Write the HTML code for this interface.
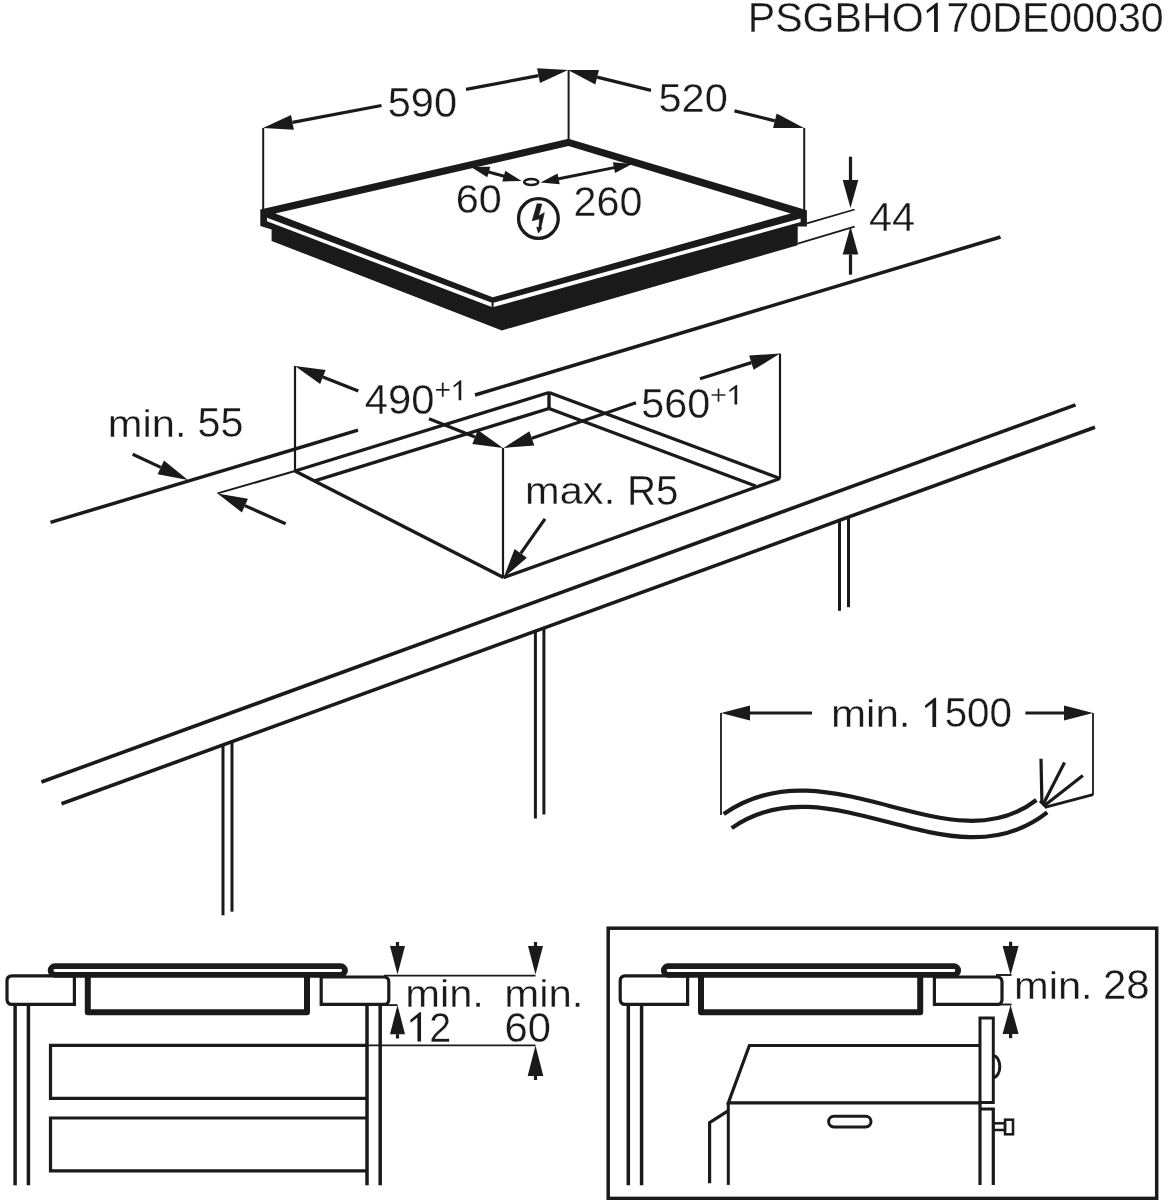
<!DOCTYPE html>
<html><head><meta charset="utf-8"><style>
html,body{margin:0;padding:0;background:#fff;}
svg{display:block;will-change:transform;}
text{font-family:"Liberation Sans",sans-serif;fill:#1a1a1a;stroke:#fff;stroke-width:0.3px;}
</style></head><body>
<svg width="1168" height="1200" viewBox="0 0 1168 1200" stroke="#1a1a1a" fill="none">
<line x1="263.2" y1="128" x2="263.2" y2="211" stroke-width="2" stroke-linecap="butt"/>
<line x1="568.6" y1="70" x2="568.6" y2="140" stroke-width="2" stroke-linecap="butt"/>
<line x1="804.2" y1="128" x2="804.2" y2="211" stroke-width="2" stroke-linecap="butt"/>
<polygon points="263.00,128.00 291.07,115.04 293.87,129.77" fill="#1a1a1a" stroke="none" stroke-width="0"/>
<line x1="381.5" y1="105.5" x2="292.47341748738006" y2="122.40378148973797" stroke-width="3.2" stroke-linecap="butt"/>
<polygon points="568.00,70.00 539.93,82.97 537.13,68.24" fill="#1a1a1a" stroke="none" stroke-width="0"/>
<line x1="466" y1="89.4" x2="538.5283266855037" y2="75.60539668922773" stroke-width="3.2" stroke-linecap="butt"/>
<polygon points="568.00,70.00 598.92,69.88 595.34,84.44" fill="#1a1a1a" stroke="none" stroke-width="0"/>
<line x1="651" y1="90.4" x2="597.1329511673882" y2="77.1603879977677" stroke-width="3.2" stroke-linecap="butt"/>
<polygon points="804.00,128.00 773.08,128.12 776.66,113.55" fill="#1a1a1a" stroke="none" stroke-width="0"/>
<line x1="734.5" y1="110.9" x2="774.8688054685556" y2="120.83246868363022" stroke-width="3.2" stroke-linecap="butt"/>
<polygon points="260.30,209.50 568.50,138.80 806.90,210.20 806.90,226.50 797.70,226.50 797.70,245.30 501.90,330.40 271.60,240.90 271.60,229.50 260.30,226.00" fill="#1a1a1a" stroke="none" stroke-width="0"/>
<polygon points="275.20,213.50 568.50,146.00 790.80,213.40 492.70,297.30" fill="#fff" stroke="none" stroke-width="0"/>
<polygon points="267.00,217.80 492.50,303.00 800.60,218.40 800.60,222.00 492.50,307.30 267.00,221.30" fill="#fff" stroke="none" stroke-width="0"/>
<line x1="492.6" y1="302.5" x2="492.6" y2="307.5" stroke-width="2" stroke-linecap="butt"/>
<ellipse cx="531.25" cy="182" rx="7.05" ry="3.0" fill="none" stroke-width="2.6"/>
<polygon points="471.00,167.00 490.30,166.67 487.34,177.26" fill="#1a1a1a" stroke="none" stroke-width="0"/>
<polygon points="521.60,181.10 502.30,181.43 505.26,170.84" fill="#1a1a1a" stroke="none" stroke-width="0"/>
<line x1="485" y1="171" x2="507" y2="177" stroke-width="3" stroke-linecap="butt"/>
<polygon points="632.10,164.10 615.04,173.12 612.88,162.33" fill="#1a1a1a" stroke="none" stroke-width="0"/>
<polygon points="540.50,182.40 557.56,173.38 559.72,184.17" fill="#1a1a1a" stroke="none" stroke-width="0"/>
<line x1="555" y1="179.5" x2="618" y2="166.9" stroke-width="3" stroke-linecap="butt"/>
<circle cx="538.4" cy="218.5" r="19.85" fill="none" stroke-width="3.3"/>
<g stroke-width="0.7" stroke-linejoin="round">
<polygon points="537.16,203.80 541.83,204.02 538.49,216.04 544.28,212.70 540.94,227.62 541.83,228.29 538.49,232.96 536.71,227.17 538.94,227.62 539.60,218.71 532.26,220.72" fill="#1a1a1a" stroke="#1a1a1a" stroke-width="0.7"/>
</g>
<polygon points="850.50,208.00 842.70,180.00 858.30,180.00" fill="#1a1a1a" stroke="none" stroke-width="0"/>
<line x1="850.5" y1="156.7" x2="850.5" y2="180.0" stroke-width="3.2" stroke-linecap="butt"/>
<polygon points="850.50,226.40 858.30,254.40 842.70,254.40" fill="#1a1a1a" stroke="none" stroke-width="0"/>
<line x1="850.5" y1="274.7" x2="850.5" y2="254.4" stroke-width="3.2" stroke-linecap="butt"/>
<line x1="806.9" y1="223.4" x2="854.6" y2="209.5" stroke-width="1.8" stroke-linecap="butt"/>
<line x1="797.7" y1="243.6" x2="854.6" y2="226.6" stroke-width="1.8" stroke-linecap="butt"/>
<line x1="50.5" y1="522.4" x2="358" y2="430.1" stroke-width="3.5" stroke-linecap="butt"/>
<line x1="475" y1="395" x2="1000.5" y2="237" stroke-width="3.5" stroke-linecap="butt"/>
<line x1="295" y1="366" x2="295" y2="471" stroke-width="2.2" stroke-linecap="butt"/>
<line x1="295" y1="471" x2="549" y2="392.5" stroke-width="3.4" stroke-linecap="butt"/>
<line x1="314.7" y1="480.8" x2="549" y2="408.5" stroke-width="3.4" stroke-linecap="butt"/>
<line x1="549" y1="392.5" x2="549" y2="408.5" stroke-width="3.4" stroke-linecap="butt"/>
<line x1="549" y1="392.5" x2="780" y2="478.5" stroke-width="3.4" stroke-linecap="butt"/>
<line x1="549" y1="408.5" x2="755.6" y2="486" stroke-width="3.4" stroke-linecap="butt"/>
<line x1="295" y1="471" x2="503.5" y2="577.6" stroke-width="3.4" stroke-linecap="butt"/>
<line x1="503" y1="448" x2="503" y2="577.6" stroke-width="2.2" stroke-linecap="butt"/>
<line x1="503.5" y1="577.6" x2="780" y2="478.5" stroke-width="3.4" stroke-linecap="butt"/>
<line x1="780" y1="353.6" x2="780" y2="478.5" stroke-width="2.2" stroke-linecap="butt"/>
<line x1="217.5" y1="493.4" x2="295" y2="471" stroke-width="2" stroke-linecap="butt"/>
<polygon points="295.00,366.00 325.66,370.04 320.15,384.00" fill="#1a1a1a" stroke="none" stroke-width="0"/>
<line x1="358.3" y1="391" x2="322.9026753593839" y2="377.02001396500157" stroke-width="3.2" stroke-linecap="butt"/>
<polygon points="503.00,448.00 472.34,443.96 477.85,430.01" fill="#1a1a1a" stroke="none" stroke-width="0"/>
<line x1="429" y1="418.8" x2="475.0939878795989" y2="436.9884384605985" stroke-width="3.2" stroke-linecap="butt"/>
<polygon points="780.00,353.60 753.64,369.77 749.13,355.46" fill="#1a1a1a" stroke="none" stroke-width="0"/>
<line x1="700" y1="378.8" x2="751.3860406290609" y2="362.6133972018459" stroke-width="3.2" stroke-linecap="butt"/>
<polygon points="503.50,448.00 529.47,431.22 534.31,445.41" fill="#1a1a1a" stroke="none" stroke-width="0"/>
<line x1="636" y1="402.8" x2="531.893371415211" y2="438.31411027949025" stroke-width="3.2" stroke-linecap="butt"/>
<polygon points="503.50,577.90 514.60,549.04 526.88,557.66" fill="#1a1a1a" stroke="none" stroke-width="0"/>
<line x1="545" y1="518.8" x2="520.7400966708522" y2="553.3484406446419" stroke-width="3.2" stroke-linecap="butt"/>
<polygon points="188.00,480.00 157.63,474.16 163.96,460.56" fill="#1a1a1a" stroke="none" stroke-width="0"/>
<line x1="132.7" y1="454.3" x2="160.79443050440426" y2="467.35654365213725" stroke-width="3.2" stroke-linecap="butt"/>
<polygon points="217.50,493.40 247.96,498.74 241.86,512.45" fill="#1a1a1a" stroke="none" stroke-width="0"/>
<line x1="285.6" y1="523.7" x2="244.90936494876414" y2="505.5953562106836" stroke-width="3.2" stroke-linecap="butt"/>
<line x1="41.4" y1="782" x2="1075.5" y2="404.9" stroke-width="3.6" stroke-linecap="butt"/>
<line x1="61.5" y1="803.8" x2="1095" y2="427.2" stroke-width="3.6" stroke-linecap="butt"/>
<line x1="223" y1="744.9884000000001" x2="223" y2="915.3" stroke-width="3" stroke-linecap="butt"/>
<line x1="232" y1="741.7079" x2="232" y2="911.7" stroke-width="3" stroke-linecap="butt"/>
<line x1="535.4" y1="631.1186" x2="535.4" y2="818.5" stroke-width="3" stroke-linecap="butt"/>
<line x1="543.9" y1="628.02035" x2="543.9" y2="814.5" stroke-width="3" stroke-linecap="butt"/>
<line x1="839.5" y1="520.27415" x2="839.5" y2="610.8" stroke-width="3" stroke-linecap="butt"/>
<line x1="848.5" y1="516.9936500000001" x2="848.5" y2="607.2" stroke-width="3" stroke-linecap="butt"/>
<line x1="721" y1="713" x2="721" y2="815" stroke-width="1.8" stroke-linecap="butt"/>
<line x1="1093" y1="713" x2="1093" y2="795" stroke-width="1.8" stroke-linecap="butt"/>
<polygon points="721.00,713.00 750.00,705.50 750.00,720.50" fill="#1a1a1a" stroke="none" stroke-width="0"/>
<line x1="812" y1="713" x2="750.0" y2="713.0" stroke-width="3.2" stroke-linecap="butt"/>
<polygon points="1093.00,713.00 1064.00,720.50 1064.00,705.50" fill="#1a1a1a" stroke="none" stroke-width="0"/>
<line x1="1025.4" y1="713" x2="1064.0" y2="713.0" stroke-width="3.2" stroke-linecap="butt"/>
<path d="M723.7,814 C828.1,741.1 949,868 1036.4,800" fill="none" stroke-width="4.2"/>
<path d="M731.7,828.1 C830.3,758.4 950.9,888.6 1047.2,812.4" fill="none" stroke-width="4.2"/>
<line x1="1041" y1="758.8" x2="1041.9" y2="802" stroke-width="3.2" stroke-linecap="butt"/>
<line x1="1064.5" y1="762.6" x2="1043.3" y2="804" stroke-width="3.2" stroke-linecap="butt"/>
<line x1="1082.9" y1="775.6" x2="1045.2" y2="805" stroke-width="3.2" stroke-linecap="butt"/>
<line x1="1093" y1="794.6" x2="1046.6" y2="806.9" stroke-width="2.8" stroke-linecap="butt"/>
<line x1="1040" y1="801" x2="1047" y2="808" stroke-width="3" stroke-linecap="butt"/>
<rect x="50.6" y="966.2" width="294.4" height="8.6" rx="4.3" fill="none" stroke-width="5.8"/>
<path d="M87.8,977 V1012.3 H307 V977" fill="none" stroke-width="6" stroke-linejoin="round"/>
<path d="M74.4,975.9 H12 Q7,975.9 7,981 V999.2 Q7,1004.4 12,1004.4 H74.4 Z" fill="none" stroke-width="3.2"/>
<path d="M321.2,977 H384 Q388.8,977 388.8,982 V999.4 Q388.8,1004.4 384,1004.4 H321.2 Z" fill="none" stroke-width="3.2"/>
<line x1="15.1" y1="1004.4" x2="15.1" y2="1185.3" stroke-width="3.5" stroke-linecap="butt"/>
<line x1="28.4" y1="1004.4" x2="28.4" y2="1185.3" stroke-width="3.5" stroke-linecap="butt"/>
<line x1="367" y1="1004.4" x2="367" y2="1185.3" stroke-width="3.5" stroke-linecap="butt"/>
<line x1="380.2" y1="1004.4" x2="380.2" y2="1185.3" stroke-width="3.5" stroke-linecap="butt"/>
<polyline points="367.00,1045.40 50.50,1045.40 50.50,1098.30 367.00,1098.30" fill="none" stroke-width="3.2" stroke-linejoin="miter" stroke-linecap="butt"/>
<polyline points="367.00,1118.00 50.50,1118.00 50.50,1170.80 367.00,1170.80" fill="none" stroke-width="3.2" stroke-linejoin="miter" stroke-linecap="butt"/>
<line x1="367" y1="1045.4" x2="535.5" y2="1045.4" stroke-width="1.8" stroke-linecap="butt"/>
<line x1="384" y1="975.6" x2="535.5" y2="975.6" stroke-width="1.9" stroke-linecap="butt"/>
<line x1="381.6" y1="1005.1" x2="397.5" y2="1005.1" stroke-width="1.8" stroke-linecap="butt"/>
<polygon points="397.50,974.40 390.00,946.00 405.00,946.00" fill="#1a1a1a" stroke="none" stroke-width="0"/>
<line x1="397.5" y1="942" x2="397.5" y2="946.0" stroke-width="3.2" stroke-linecap="butt"/>
<polygon points="535.50,974.40 528.00,946.00 543.00,946.00" fill="#1a1a1a" stroke="none" stroke-width="0"/>
<line x1="535.5" y1="942" x2="535.5" y2="946.0" stroke-width="3.2" stroke-linecap="butt"/>
<polygon points="397.50,1004.90 405.00,1034.20 390.00,1034.20" fill="#1a1a1a" stroke="none" stroke-width="0"/>
<line x1="397.5" y1="1038.5" x2="397.5" y2="1034.2" stroke-width="3.2" stroke-linecap="butt"/>
<polygon points="535.50,1045.50 543.30,1076.00 527.70,1076.00" fill="#1a1a1a" stroke="none" stroke-width="0"/>
<line x1="535.5" y1="1080" x2="535.5" y2="1076.0" stroke-width="3.2" stroke-linecap="butt"/>
<rect x="608.2" y="928.2" width="548.5" height="270.2" fill="none" stroke-width="3.5"/>
<rect x="663.8000000000001" y="966.2" width="294.4" height="8.6" rx="4.3" fill="none" stroke-width="5.8"/>
<path d="M701.0,977 V1012.3 H920.2 V977" fill="none" stroke-width="6" stroke-linejoin="round"/>
<path d="M687.6,975.9 H625.2 Q620.2,975.9 620.2,981 V999.2 Q620.2,1004.4 625.2,1004.4 H687.6 Z" fill="none" stroke-width="3.2"/>
<path d="M934.4000000000001,977 H997.2 Q1002.0,977 1002.0,982 V999.4 Q1002.0,1004.4 997.2,1004.4 H934.4000000000001 Z" fill="none" stroke-width="3.2"/>
<line x1="628.3000000000001" y1="1004.4" x2="628.3000000000001" y2="1185.3" stroke-width="3.5" stroke-linecap="butt"/>
<line x1="641.6" y1="1004.4" x2="641.6" y2="1185.3" stroke-width="3.5" stroke-linecap="butt"/>
<line x1="996" y1="975" x2="1011.5" y2="975" stroke-width="1.9" stroke-linecap="butt"/>
<line x1="996" y1="1004.5" x2="1011.5" y2="1004.5" stroke-width="1.9" stroke-linecap="butt"/>
<polygon points="1010.60,975.00 1002.60,946.00 1018.60,946.00" fill="#1a1a1a" stroke="none" stroke-width="0"/>
<line x1="1010.6" y1="941.8" x2="1010.6" y2="946.0" stroke-width="3.2" stroke-linecap="butt"/>
<polygon points="1010.60,1004.90 1018.60,1033.90 1002.60,1033.90" fill="#1a1a1a" stroke="none" stroke-width="0"/>
<line x1="1010.6" y1="1038.2" x2="1010.6" y2="1033.9" stroke-width="3.2" stroke-linecap="butt"/>
<polyline points="980.00,1045.50 749.40,1045.50 728.30,1102.90 980.00,1102.90" fill="none" stroke-width="3.2" stroke-linejoin="miter" stroke-linecap="butt"/>
<line x1="728.3" y1="1102.9" x2="728.3" y2="1184.9" stroke-width="3" stroke-linecap="butt"/>
<polyline points="728.80,1110.30 709.60,1122.60 709.60,1183.30" fill="none" stroke-width="3.2" stroke-linejoin="miter" stroke-linecap="butt"/>
<rect x="980" y="1018" width="13.3" height="84.5" fill="none" stroke-width="3"/>
<polyline points="980.00,1102.50 980.00,1185.00" fill="none" stroke-width="3.2" stroke-linejoin="miter" stroke-linecap="butt"/>
<polyline points="980.00,1109.00 993.30,1109.00 993.30,1185.00" fill="none" stroke-width="3.2" stroke-linejoin="miter" stroke-linecap="butt"/>
<path d="M993.3,1055.8 A6.5,10.85 0 0 1 993.3,1077.5" fill="none" stroke-width="3"/>
<rect x="828.6" y="1116.3" width="42.4" height="10.6" rx="5.3" fill="none" stroke-width="3"/>
<rect x="993.3" y="1123.3" width="11.7" height="6.7" fill="none" stroke-width="2.5"/>
<rect x="1005" y="1119.7" width="8" height="14.6" fill="none" stroke-width="2.5"/>
<polygon points="937.85,32.00 937.85,2.64 936.28,2.64 926.46,10.56 927.13,13.34 934.05,7.99 934.05,32.00" fill="#1a1a1a" stroke="none" stroke-width="0"/>
<text transform="translate(747.72,32.0) scale(0.9757,1)" font-size="42.14">PSGBHO&#x2007;70DE00030</text>
<text transform="translate(387.72,116.9) scale(0.9736,1)" font-size="42.71">590</text>
<text transform="translate(658.42,111.6) scale(1.0323,1)" font-size="40.29">520</text>
<text transform="translate(868.96,231.3) scale(1.0081,1)" font-size="41.29">44</text>
<text transform="translate(455.83,213.1) scale(1.0232,1)" font-size="40.43">60</text>
<text transform="translate(573.54,216.0) scale(0.986,1)" font-size="41.86">260</text>
<text transform="translate(107.77,436.6) scale(1.0817,1)" font-size="38.53">min.</text>
<text transform="translate(197.43,437.0) scale(0.9883,1)" font-size="41.86">55</text>
<text transform="translate(364.76,414.2) scale(0.9807,1)" font-size="42.57">490</text>
<polygon points="461.27,400.30 461.27,380.30 460.18,380.30 453.32,385.70 453.79,387.59 458.62,383.95 458.62,400.30" fill="#1a1a1a" stroke="none" stroke-width="0"/>
<text transform="translate(434.6,400.3) scale(1.0,1)" font-size="28.7">+&#x2007;</text>
<text transform="translate(641.33,418.3) scale(0.989,1)" font-size="41.86">560</text>
<polygon points="737.21,404.40 737.21,384.89 736.10,384.89 729.12,390.15 729.60,392.00 734.51,388.45 734.51,404.40" fill="#1a1a1a" stroke="none" stroke-width="0"/>
<text transform="translate(710.07,404.4) scale(1.043,1)" font-size="28.0">+&#x2007;</text>
<text transform="translate(525.08,504.3) scale(1.0593,1)" font-size="39.27">max.</text>
<text transform="translate(626.88,504.6) scale(0.9617,1)" font-size="41.86">R5</text>
<text transform="translate(831.04,726.7) scale(1.081,1)" font-size="38.93">min.</text>
<polygon points="936.13,727.00 936.13,697.64 934.60,697.64 924.94,705.56 925.60,708.34 932.40,702.99 932.40,727.00" fill="#1a1a1a" stroke="none" stroke-width="0"/>
<text transform="translate(922.17,727.0) scale(0.9592,1)" font-size="42.14">&#x2007;500</text>
<text transform="translate(405.17,1007.2) scale(1.0743,1)" font-size="38.8">min.</text>
<polygon points="421.05,1041.50 421.05,1012.14 419.55,1012.14 410.14,1020.06 410.78,1022.84 417.41,1017.49 417.41,1041.50" fill="#1a1a1a" stroke="none" stroke-width="0"/>
<text transform="translate(407.44,1041.5) scale(0.9349,1)" font-size="42.14">&#x2007;2</text>
<text transform="translate(504.25,1007.2) scale(1.0817,1)" font-size="38.8">min.</text>
<text transform="translate(504.51,1041.5) scale(1.0044,1)" font-size="41.57">60</text>
<text transform="translate(1013.97,998.5) scale(1.0817,1)" font-size="38.53">min.</text>
<text transform="translate(1102.9,998.8) scale(1.0057,1)" font-size="41.71">28</text>
</svg></body></html>
